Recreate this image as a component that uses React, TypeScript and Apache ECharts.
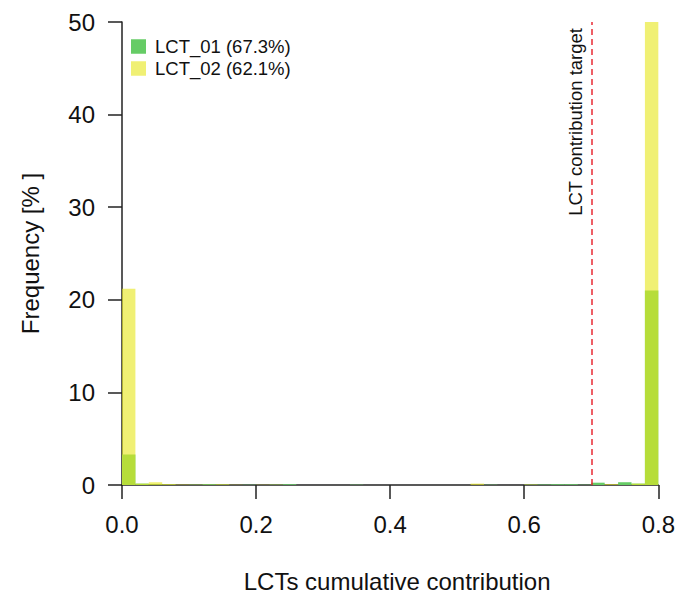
import React, { useEffect, useRef } from "react";
import * as echarts from "echarts";

const binWidth = 0.02;
const binStarts = [
  0.0, 0.02, 0.04, 0.06, 0.08, 0.1, 0.12, 0.14, 0.16, 0.18,
  0.2, 0.22, 0.24, 0.26, 0.28, 0.3, 0.32, 0.34, 0.36, 0.38,
  0.4, 0.42, 0.44, 0.46, 0.48, 0.5, 0.52, 0.54, 0.56, 0.58,
  0.6, 0.62, 0.64, 0.66, 0.68, 0.7, 0.72, 0.74, 0.76, 0.78,
];
const lct01Freq = [
  3.3, 0.15, 0.05, 0.03, 0, 0.03, 0.08, 0.03, 0, 0.03,
  0, 0.03, 0.08, 0, 0, 0, 0, 0.03, 0, 0,
  0, 0, 0, 0, 0, 0, 0, 0.03, 0, 0,
  0.03, 0.05, 0.08, 0.08, 0.03, 0.25, 0, 0.3, 0.15, 21.0,
];
const lct02Freq = [
  21.2, 0.15, 0.3, 0.1, 0.05, 0.03, 0.03, 0.08, 0.03, 0,
  0.03, 0.03, 0, 0, 0, 0, 0, 0, 0, 0,
  0, 0, 0, 0, 0, 0, 0.15, 0, 0, 0,
  0.05, 0, 0, 0, 0, 0, 0.1, 0, 0.15, 50.0,
];
const seriesNames = ["LCT_01 (67.3%)", "LCT_02 (62.1%)"];
const targetValue = 0.7;
const targetLabel = "LCT contribution target";

const GREEN = "rgb(102,204,102)";
const YELLOW = "rgba(231,231,30,0.62)";
const FONT = "'Liberation Sans', Arial, sans-serif";

function histData(values: number[]) {
  return binStarts.map((s, i) => [s, s + binWidth, values[i]]);
}

function makeRender(color: string) {
  return (params: any, api: any) => {
    const x0 = api.value(0);
    const x1 = api.value(1);
    const v = api.value(2);
    if (!v) return null;
    const p0 = api.coord([x0, 0]);
    const p1 = api.coord([x1, v]);
    return {
      type: "rect",
      shape: { x: p0[0], y: p1[1], width: p1[0] - p0[0], height: p0[1] - p1[1] },
      style: { fill: color },
    };
  };
}

export default function App() {
  const ref = useRef<HTMLDivElement>(null);
  useEffect(() => {
    document.body.style.margin = "0";
    if (!ref.current) return;
    const chart = echarts.init(ref.current, null, { renderer: "svg" });
    chart.setOption({
      animation: false,
      backgroundColor: "#ffffff",
      textStyle: { fontFamily: FONT },
      grid: { left: 122, right: 18, top: 22, bottom: 109 },
      legend: {
        left: 131,
        top: 37,
        padding: 0,
        orient: "vertical",
        itemWidth: 15,
        itemHeight: 14.5,
        itemGap: 3,
        icon: "rect",
        data: [
          { name: seriesNames[0], itemStyle: { color: GREEN } },
          { name: seriesNames[1], itemStyle: { color: YELLOW } },
        ],
        textStyle: {
          fontSize: 18.5,
          color: "#111",
          fontFamily: FONT,
          padding: [0, 0, 0, 4],
        },
      },
      xAxis: {
        type: "value",
        min: 0,
        max: 0.8,
        interval: 0.2,
        name: "LCTs cumulative contribution",
        nameLocation: "middle",
        nameGap: 84,
        nameTextStyle: { fontSize: 24, color: "#111", fontFamily: FONT, padding: [0, 0, 0, 14] },
        splitLine: { show: false },
        axisLine: { show: true, lineStyle: { color: "#222", width: 1.5 } },
        axisTick: { show: true, length: 14, lineStyle: { color: "#222", width: 1.5 } },
        axisLabel: {
          fontSize: 24,
          color: "#111",
          margin: 27,
          fontFamily: FONT,
          formatter: (v: number) => v.toFixed(1),
        },
      },
      yAxis: {
        type: "value",
        min: 0,
        max: 50,
        interval: 10,
        name: "Frequency [% ]",
        nameLocation: "middle",
        nameGap: 80,
        nameTextStyle: { fontSize: 24, color: "#111", fontFamily: FONT },
        splitLine: { show: false },
        axisLine: { show: true, lineStyle: { color: "#222", width: 1.5 } },
        axisTick: { show: true, length: 14, lineStyle: { color: "#222", width: 1.5 } },
        axisLabel: { fontSize: 24, color: "#111", margin: 27, fontFamily: FONT },
      },
      series: [
        {
          name: seriesNames[0],
          type: "custom",
          itemStyle: { color: GREEN },
          renderItem: makeRender(GREEN),
          encode: { x: [0, 1], y: 2 },
          data: histData(lct01Freq),
          clip: true,
        },
        {
          name: seriesNames[1],
          type: "custom",
          itemStyle: { color: YELLOW },
          renderItem: makeRender(YELLOW),
          encode: { x: [0, 1], y: 2 },
          data: histData(lct02Freq),
          clip: true,
          markLine: {
            silent: true,
            symbol: "none",
            lineStyle: { color: "rgba(230,20,30,0.9)", type: [6, 4], width: 1.5 },
            label: {
              show: true,
              position: "insideEndTop",
              formatter: targetLabel,
              fontSize: 18.5,
              color: "#111",
              fontFamily: FONT,
              distance: 6,
            },
            data: [{ xAxis: targetValue }],
          },
        },
      ],
    });
    return () => chart.dispose();
  }, []);
  return <div ref={ref} style={{ width: 678, height: 598 }} />;
}
